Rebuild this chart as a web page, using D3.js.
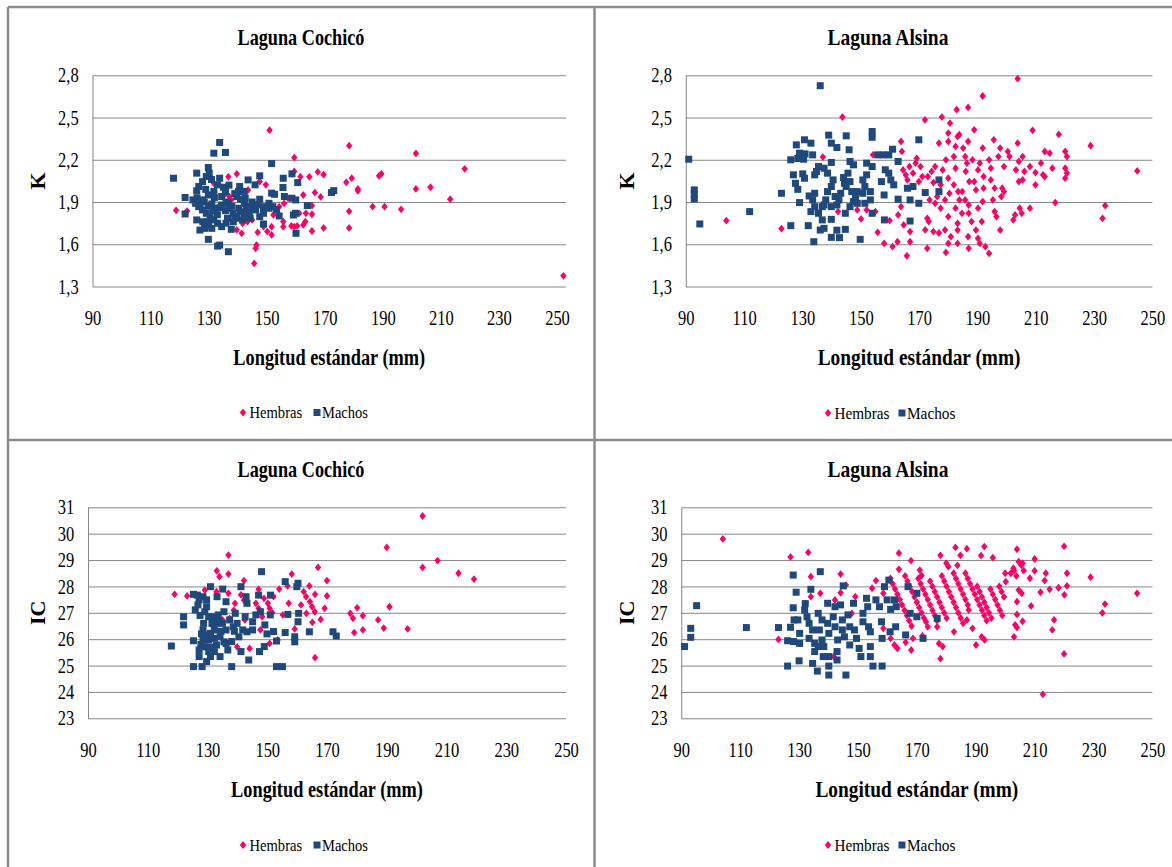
<!DOCTYPE html>
<html><head><meta charset="utf-8">
<script src="https://cdn.jsdelivr.net/npm/d3@7/dist/d3.min.js"></script>
<style>html,body{margin:0;padding:0;background:#fff}svg{display:block}text{font-family:'Liberation Serif','Times New Roman',Times,serif}</style>
</head><body>
<script>
// ---------- DATA ----------
const panelTitles = ["Laguna Cochicó", "Laguna Alsina", "Laguna Cochicó", "Laguna Alsina"];
const yAxisTitles = ["K", "K", "IC", "IC"];
const xAxisTitle = "Longitud estándar (mm)";
const seriesNames = ["Hembras", "Machos"];
const xTicks = [90, 110, 130, 150, 170, 190, 210, 230, 250];
const kTicks = [1.3, 1.6, 1.9, 2.2, 2.5, 2.8];
const icTicks = [23, 24, 25, 26, 27, 28, 29, 30, 31];

const cochicoK_H = [[151,2.41],[178.4,2.30],[201.4,2.245],[218.2,2.136],[159.5,2.216],[167.6,2.114],[169.6,2.095],[179.3,2.069],[177.4,2.04],[188.7,2.086],[189.5,2.10],[201.4,1.993],[206.4,2.005],[181.4,1.993],[181.4,1.98],[213.2,1.92],[186.5,1.867],[190.6,1.867],[196.3,1.848],[178.4,1.834],[178.4,1.716],[169.6,1.716],[252.2,1.376],[118.8,1.841],[122.6,1.836],[136.8,2.079],[139.7,2.10],[161.6,2.08],[164.7,2.079],[166.6,1.967],[168.6,1.936],[162.6,1.95],[165.6,1.875],[165.6,1.813],[163.5,1.82],[163.3,1.761],[162.6,1.737],[159.5,1.725],[159.5,2.117],[165.6,1.694],[155.7,1.761],[155.7,1.725],[151.7,1.666],[150.2,1.69],[148.9,1.725],[146.9,1.685],[146.2,1.571],[146.5,1.594],[145.7,1.464],[141.4,1.678],[139.7,1.702],[141.7,1.749],[143.4,1.761],[149.7,2.022],[147.6,2.045],[143.6,1.986],[137.1,1.939],[137.8,1.915],[135.8,1.96],[131.8,2.033],[154.3,1.867],[152.3,1.808],[157.3,1.927],[156,1.89],[147.6,1.903],[145,1.773],[151.7,1.725],[161.2,1.82],[142.3,1.82],[137.1,1.879],[158.5,1.73],[160.5,1.73]];
const cochicoK_M = [[133.8,2.323],[131.8,2.247],[135.8,2.252],[151.7,2.173],[117.9,2.069],[125.9,2.105],[129.9,2.145],[130.2,2.105],[129.2,2.081],[127.9,2.045],[126.6,2.01],[125.9,1.98],[133.8,2.069],[133.1,2.022],[135.1,2.005],[135.8,1.975],[134.5,1.939],[140.7,2.01],[143.6,2.057],[147.6,2.086],[146,2.022],[155.7,2.069],[158.7,2.10],[160.7,2.038],[151.7,1.963],[152.7,1.955],[156.1,1.939],[158.7,1.927],[160,1.915],[147.6,1.92],[142.6,1.927],[139.7,1.939],[121.9,1.932],[121.9,1.815],[124.6,1.915],[125.5,1.891],[126.6,1.867],[127.9,1.844],[129.2,1.82],[130.5,1.796],[131.8,1.773],[129.9,1.761],[127,1.701],[128.6,1.713],[129.9,1.635],[133.1,1.587],[133.8,1.594],[136.8,1.547],[137.8,1.706],[125.9,1.773],[131.1,1.886],[132.4,1.856],[134.5,1.879],[135.8,1.839],[137.1,1.856],[138.4,1.82],[136.5,1.785],[139.7,1.785],[133.1,1.749],[134.5,1.725],[131.1,1.713],[140.4,1.856],[142.3,1.891],[144.3,1.867],[146.2,1.844],[148.9,1.867],[150.8,1.891],[150.8,1.856],[152.1,1.867],[153.4,1.844],[148.9,1.82],[142.3,1.796],[141.7,1.773],[144.3,1.785],[147.6,1.796],[148.9,1.744],[154.3,1.801],[159.9,1.82],[159.2,1.808],[160.1,1.678],[164,1.875],[172.3,1.967],[173.1,1.981],[155.6,2.003],[127.9,1.915],[136.8,1.891],[129.9,1.95],[131.8,1.975],[140.3,1.975],[142.3,1.975],[127,1.88],[128.5,1.9],[130,1.87],[131.5,1.84],[133,1.81],[134,1.86],[136,1.9],[138,1.87],[139,1.8],[141,1.83],[143,1.85],[145,1.9],[146.5,1.88],[144,1.82],[132,1.93],[130,1.73],[136,1.75],[138.5,1.76],[126,1.93],[128,1.76],[129,1.99],[131,2.06],[137,2.02],[139,1.96],[141,1.92]];

const alsinaK_H = [[103.9,1.768],[122.8,1.711],[137,2.219],[143.7,2.503],[142.2,1.832],[148.8,1.844],[150.1,1.78],[152,1.844],[155,1.832],[154.2,2.235],[155.8,1.685],[158,1.606],[159.9,1.768],[160.9,1.583],[162.6,1.618],[165.8,1.518],[166.9,1.618],[166.9,1.69],[163.8,2.33],[164.1,2.259],[163.8,1.867],[162.8,1.808],[164.7,1.737],[164.5,2.128],[165.4,2.093],[166,2.057],[166.7,2.152],[167.9,2.105],[169.2,2.209],[168.8,2.176],[169.9,2.045],[171.1,2.081],[170.5,2.152],[172,2.484],[172.8,1.571],[172.8,1.784],[173.3,1.761],[173.6,1.915],[173,2.081],[174.3,2.117],[175.5,2.152],[174.9,2.038],[174.9,1.69],[175.5,1.891],[176.2,1.939],[176.8,2.318],[177.8,2.503],[177.4,2.022],[177.4,1.856],[176.8,1.68],[179.2,2.2],[178.1,2.128],[179.2,1.542],[178.9,1.702],[180,2.39],[180,2.33],[180.6,2.46],[180,2.069],[180.4,1.962],[180,1.796],[180,1.606],[180.9,1.654],[182.9,2.556],[181.9,2.223],[182.5,2.295],[183.2,2.366],[183.8,2.378],[182.5,2.14],[181.9,2.022],[183.4,1.974],[183.8,1.915],[182.5,1.856],[183.2,1.749],[183.2,1.701],[183.2,1.606],[184.7,1.82],[185.1,2.283],[185.8,2.223],[186.4,2.176],[186,2.117],[185.8,1.915],[186.8,2.572],[186.8,2.33],[187,1.879],[187,1.82],[186.8,1.654],[187,1.571],[188.9,2.413],[188.3,2.2],[188.9,2.045],[189.5,1.986],[190.2,2.128],[190.8,2.176],[190.2,1.856],[189.5,1.701],[190.2,1.642],[190.8,1.606],[191.8,2.653],[191.8,2.283],[192.1,2.081],[192.1,1.998],[191.8,1.903],[191.5,1.761],[192.7,1.583],[194,1.535],[194,2.2],[194.6,2.14],[195.6,2.342],[194.6,2.057],[195.3,1.915],[195.9,1.832],[195.9,1.998],[196.5,1.796],[197.2,2.223],[197.8,2.283],[198.2,1.939],[198.5,1.998],[197.8,1.701],[199.1,2.152],[200.4,2.259],[201,2.223],[202.3,1.773],[202.9,1.808],[203.2,2.128],[203.8,2.776],[203.8,2.318],[204.2,2.188],[204.2,2.045],[204.5,1.856],[205.2,1.82],[205.5,2.223],[205.5,2.057],[206.1,2.117],[208,2.152],[208,1.856],[208.9,2.409],[209.9,2.109],[209.9,2.022],[211.8,2.176],[212.5,2.093],[213.1,2.259],[214.8,2.247],[215.7,2.14],[213.1,2.081],[216.7,1.896],[217.9,2.38],[220.1,2.259],[220.7,2.223],[220.1,2.14],[220.7,2.105],[220.1,2.069],[228.8,2.3],[232.9,1.784],[233.8,1.875],[244.8,2.121],[187.2,2.045],[184.8,1.974],[199.1,1.974],[178.9,1.915],[172.1,1.702],[188,1.761]];
const alsinaK_M = [[91,2.204],[92.9,1.986],[92.9,1.955],[92.9,1.922],[94.8,1.744],[111.9,1.832],[122.8,1.962],[126,1.732],[132,1.732],[133.9,1.618],[136.1,2.726],[126,2.2],[127.9,2.306],[126.9,2.093],[130.7,2.342],[132.9,2.318],[129,2.247],[130.9,2.242],[133.5,2.235],[128.4,2.209],[130.4,2.204],[127.6,2.033],[128.4,1.99],[130.7,2.069],[130.1,2.1],[129,1.896],[132.3,1.943],[133.5,1.915],[132.9,1.832],[134.2,1.867],[135.5,1.82],[136.8,1.773],[136.1,1.701],[137.4,1.713],[134.2,2.093],[135.5,2.152],[137.4,2.14],[134.8,2.117],[139,2.375],[139.9,2.318],[141.8,2.287],[139.9,2.181],[138.6,2.105],[140.5,2.057],[139.9,2.01],[138.6,1.974],[138,1.915],[137.4,1.879],[139.9,1.867],[141.2,1.939],[143.1,1.962],[142.5,1.915],[141.8,1.879],[139.9,1.777],[139.9,1.649],[142.7,1.647],[141.8,1.7],[144.7,1.706],[144.7,1.82],[145,2.37],[146,2.271],[146.3,2.188],[147.5,2.164],[145.6,2.105],[144.1,2.074],[146.3,2.045],[145,2.01],[146.9,1.974],[148.2,1.939],[147.5,1.903],[148.8,1.891],[146.3,1.867],[149.8,1.635],[151.4,1.891],[150.7,1.962],[151.4,2.01],[150.7,2.057],[152,2.093],[152,2.176],[153.9,2.401],[153.9,2.36],[153.9,2.152],[153.3,1.974],[153.3,1.915],[153.9,1.82],[155.8,2.235],[157.7,2.235],[159.6,2.235],[160.9,2.275],[157.1,2.045],[158,1.95],[158.4,2.129],[159.6,2.105],[160.3,2.057],[161.3,2.022],[162.8,2.188],[162.8,1.92],[158.1,1.773],[166.9,1.915],[166.9,1.765],[166,1.998],[167.9,2.01],[169.9,2.342],[169.9,1.891],[172.1,1.967],[176.8,2.057],[176.8,1.974],[148.8,1.974],[144.4,2.033],[136.8,1.867],[134.2,1.962]];

const cochicoIC_H = [[202,30.67],[190,29.48],[202,28.72],[207,28.98],[214,28.5],[219.2,28.28],[137,29.19],[133.1,28.59],[134,28.37],[137,28.47],[142.2,28.22],[119,27.7],[123.2,27.64],[129.1,27.86],[137,27.74],[141.2,27.68],[139.2,27.36],[133,27.8],[158.2,28.47],[167,28.72],[170,28.22],[170,27.64],[169.2,27.17],[167.9,26.75],[164.1,28.02],[166,27.7],[162.2,27.8],[163,27.61],[164.3,27.42],[165,27.23],[165.9,27.04],[161.3,27.3],[163.1,26.98],[165.1,26.64],[166,25.3],[159.2,26.39],[156.8,28.02],[154,27.9],[152.1,27.61],[148.9,27.55],[150.2,27.36],[150.8,27.17],[151.7,27],[147.1,27.89],[146.2,27.36],[147.1,27.17],[148.3,26.85],[147.7,26.35],[150.8,25.84],[144.1,25.65],[139.9,25.71],[137.4,26.79],[131.7,26.51],[142.5,26.73],[142.2,27.48],[153.5,25.97],[155.2,26.92],[177.8,26.98],[178.7,26.79],[180.1,27.19],[182,26.89],[179.1,26.25],[182,26.35],[187.1,26.73],[189,26.42],[190.9,27.23],[197,26.39],[138.8,27.1],[135,26.73],[157.2,27.36]];
const cochicoIC_M = [[117.9,25.74],[122,26.85],[122,26.54],[125.3,27.7],[126.6,27.67],[125.9,27.11],[127.2,27.49],[125.3,25.94],[125.3,24.96],[127.2,25.59],[127.2,25.34],[128.2,24.96],[128.5,27.61],[129.7,27.49],[129.7,27.23],[129.1,27.04],[130.4,26.85],[128.7,26.6],[128.5,26.35],[129.7,26.16],[130.4,25.97],[129.1,25.71],[130.4,25.53],[131,25.34],[129.7,25.15],[131,27.99],[133.2,27.61],[133.6,26.92],[133,26.6],[132.3,26.35],[132.3,26.03],[133,25.78],[134.2,25.34],[135.1,27.9],[136.2,27.42],[135.5,27.04],[135,26.6],[136.2,26.35],[136.2,25.84],[136.8,25.59],[138.1,24.96],[138.1,25.91],[139.3,26.98],[139.9,26.6],[141.2,27.99],[141.2,25.53],[141.8,26.35],[142.9,27.61],[143.2,27.36],[142.6,26.85],[143.2,26.28],[143.8,25.21],[145.1,26.66],[145.1,26.35],[146.2,26.92],[148.1,28.56],[147.1,27.67],[147.7,27.04],[147.4,25.53],[149,25.72],[149.2,26.54],[149.9,26.2],[151.1,27.67],[151,26.92],[152.1,26.29],[153.1,25.93],[153.1,24.96],[155.1,24.96],[156,28.18],[156,26.25],[156.9,26.94],[159.2,26.09],[159.2,25.9],[159.9,27.99],[160.3,28.12],[160.5,26.98],[160.3,26.66],[164.1,26.28],[172,26.28],[173.1,26.12],[131.7,26.85],[137.4,26.73],[138.6,26.47],[140.5,26.09],[131,26.22],[134.2,26.09],[128.5,25.97],[132.3,25.53],[127.5,26.9],[131.5,26.6],[134.5,26.3],[127.8,25.8],[130.8,25.7],[133.8,26.7],[128,26.2],[126.8,27.3],[135.5,25.9],[139,26.3]];

const alsinaIC_H = [[104.1,29.8],[127.1,29.12],[133.1,29.29],[134,28.37],[134,27.61],[137.2,27.74],[123,25.99],[144.1,28.47],[144.1,27.76],[142.2,27.49],[141.8,25.34],[145.9,28.05],[149.1,27.61],[147.9,26.98],[154.8,27.93],[156.1,28.22],[158.6,27.74],[163.9,29.26],[163.9,28.65],[168,28.98],[171,28.62],[171.6,28.41],[178,29.18],[180,28.88],[180.7,28.75],[183.1,29.48],[183.8,28.8],[184.8,29.18],[187,29.43],[191.8,29.17],[192.9,29.51],[195.8,29.09],[204,29.41],[210,29.04],[220,29.52],[221,28.5],[213.8,28.5],[213.4,28.22],[221,28.02],[218.1,27.95],[220.1,27.68],[215.1,27.89],[212,27.78],[208.8,27.26],[210,28.59],[208.4,28.31],[229,28.35],[233.9,27.33],[233,27],[244.8,27.74],[216.6,26.73],[216,26.35],[220,25.44],[212.8,23.91],[205.9,26.68],[204,26.94],[203.4,26.54],[204,26.44],[203,26.09],[204,27.42],[204.6,27.86],[205.6,27.74],[205.9,28.88],[204.6,28.94],[201.9,28.5],[202.8,28.69],[200.2,28.18],[200,28.5],[193,25.97],[190.1,25.78],[192,26.09],[188.9,26.41],[187,26.73],[187.6,27.11],[178,25.26],[178.8,25.72],[177.5,25.84],[182.6,26.28],[176.9,26.47],[173.7,26.47],[173.1,26.66],[168.1,25.59],[166.2,25.88],[163.4,25.65],[162.4,25.78],[161.1,26.03],[158.6,26.41],[168.7,26.03],[171.9,26.12],
[161,28.3],[161.8,28.1],[162.6,27.9],[163.4,27.7],[164.2,27.5],[165,27.3],[165.8,27.1],[166.6,26.9],[167.4,26.7],[168.2,26.5],
[166,28.4],[166.8,28.2],[167.6,28.0],[168.4,27.8],[169.2,27.6],[170,27.4],[170.8,27.2],[171.6,27.0],[172.4,26.8],
[170.5,28.3],[171.3,28.1],[172.1,27.9],[172.9,27.7],[173.7,27.5],[174.5,27.3],[175.3,27.1],[176.1,26.9],[176.9,26.7],
[174.5,28.2],[175.3,28.0],[176.1,27.8],[176.9,27.6],[177.7,27.4],[178.5,27.2],[179.3,27.0],[180.1,26.8],
[178.5,28.4],[179.3,28.2],[180.1,28.0],[180.9,27.8],[181.7,27.6],[182.5,27.4],[183.3,27.2],[184.1,27.0],[184.9,26.8],[185.7,26.6],
[182.5,28.5],[183.3,28.3],[184.1,28.1],[184.9,27.9],[185.7,27.7],[186.5,27.5],[187.3,27.3],
[186.5,28.5],[187.3,28.3],[188.1,28.1],[188.9,27.9],[189.7,27.7],[190.5,27.5],[191.3,27.3],[192.1,27.1],[192.9,26.9],[193.7,26.7],
[190.5,28.0],[191.3,27.8],[192.1,27.6],[192.9,27.4],[193.7,27.2],[194.5,27.0],[195.3,26.8],
[195,27.9],[195.8,27.7],[196.6,27.5],[197.4,27.3],[198.2,27.1],[199,26.9],
[198,28.0],[198.8,27.8],[199.6,27.6],
[203,28.6],[203.8,28.4],[205.5,28.8],[206.3,28.6]];
const alsinaIC_M = [[91.1,25.72],[93.2,26.41],[93.2,26.07],[95.2,27.27],[112.1,26.44],[123,26.44],[126.1,24.98],[127.1,26.45],[128,28.43],[129,27.78],[128,27.19],[128.3,26.73],[126.1,25.94],[128.1,25.91],[130.2,25.84],[130.2,26.22],[130,25.18],[132.1,27.35],[131.9,27.1],[132.7,26.85],[134,27.89],[133.4,26.6],[134.6,26.35],[135.3,25.84],[135.3,25.53],[136.2,24.79],[137.2,28.56],[136.5,26.98],[137.8,26.73],[136.9,26.35],[137.8,25.97],[138.4,25.72],[138.2,25.34],[139.7,27.36],[139.7,26.6],[140.1,26.22],[140.1,25.34],[140.1,24.98],[140.1,24.64],[141.6,26.85],[142.2,26.47],[142.9,25.53],[142.9,25.21],[142.2,27.23],[144.1,27.3],[145,28.02],[144.7,26.73],[144.7,26.35],[145.4,26.09],[145.9,24.64],[146.6,26.92],[147.2,25.78],[148.5,27.36],[148.8,26.35],[149.5,26.03],[150.4,25.65],[151,25.34],[151.7,26.66],[151.7,26.98],[152.9,27.55],[153.3,27.23],[153.6,26.47],[154.2,26.28],[154.2,25.72],[154.2,25.34],[155.1,24.98],[156.1,27.49],[157.3,27.23],[158,26.66],[158.2,26.03],[158.2,24.98],[159,27.99],[159.9,27.49],[160.5,28.24],[161.1,27.13],[160.9,26.28],[162.4,27.49],[162.8,26.47],[163,27.23],[166.2,26.16],[167,27.99],[167.7,26.98],[170,27.74],[170,26.85],[172.1,26.03],[176.9,26.79],[129.6,26.73],[133.4,26.03],[136.5,25.72],[143.1,25.97],[147.2,26.47],[134.6,25.08]];

const panelData = [
  [cochicoK_H, cochicoK_M],
  [alsinaK_H, alsinaK_M],
  [cochicoIC_H, cochicoIC_M],
  [alsinaIC_H, alsinaIC_M]
];

// ---------- LAYOUT ----------
const W = 1172, H = 867;
const FONT = "'Liberation Serif','Times New Roman',Times,serif";
const colH = "#FF0066", colM = "#1F497D", gridCol = "#888888";
const SX = 0.75; // horizontal squash of the reference text
const TICK_FS = 22;

const panels = [
  {x0:92.5, x1:557, right:566, top:75.3, bottom:286.5, yTicks:kTicks, titleX:301, titleY:45, titleW:127, xtY:365, xtW:192, ytX:45, legX:243, legY:412.5},
  {x0:685.8, x1:1152.4, right:1152.4, top:75.3, bottom:286.5, yTicks:kTicks, titleX:888, titleY:45, titleW:121, xtY:365, xtW:203, ytX:634, legX:828, legY:413},
  {x0:88, x1:566, right:566, top:507.3, bottom:718.3, yTicks:icTicks, titleX:301, titleY:477, titleW:127, xtY:797, xtW:192, ytX:45, legX:243, legY:845},
  {x0:681.3, x1:1152.4, right:1152.4, top:507.3, bottom:718.3, yTicks:icTicks, titleX:888, titleY:477, titleW:121, xtY:797, xtW:203, ytX:634, legX:828, legY:845}
];

const svg = d3.select("body").append("svg").attr("width", W).attr("height", H)
  .style("font-family", FONT);
svg.append("rect").attr("width", W).attr("height", H).attr("fill", "#fff");

function squashText(g, x, y, str, size, weight, targetW, anchor) {
  const t = g.append("text").attr("font-size", size).attr("font-weight", weight)
    .style("font-family", FONT)
    .attr("text-anchor", anchor || "middle").attr("fill", "#000").text(str);
  let s = SX;
  if (targetW) { const w = t.node().getComputedTextLength(); s = targetW / w; }
  t.attr("transform", `translate(${x},${y}) scale(${s},1)`);
  return t;
}

const diamond = (w, h) => `M0,${-h}L${w},0L0,${h}L${-w},0Z`;
const fmt = d => (Number.isInteger(d) ? String(d) : d3.format(".1f")(d).replace(".", ","));

panels.forEach((p, i) => {
  const g = svg.append("g");
  const yDom = d3.extent(p.yTicks);
  const x = d3.scaleLinear().domain([90, 250]).range([p.x0, p.x1]);
  const y = d3.scaleLinear().domain(yDom).range([p.bottom, p.top]);

  // y axis with gridlines
  const ya = g.append("g").attr("transform", `translate(${p.x0},0)`)
    .call(d3.axisLeft(y).tickValues(p.yTicks).tickFormat(fmt)
      .tickSizeInner(-(p.right - p.x0)).tickSizeOuter(0).tickPadding(18.5));
  ya.attr("font-family", null);
  ya.selectAll(".tick line").attr("stroke", gridCol).attr("stroke-width", 1);
  ya.select(".domain").attr("stroke", gridCol).attr("stroke-width", 1);
  ya.selectAll(".tick text").attr("font-size", TICK_FS).style("font-family", FONT).attr("fill", "#000")
    .attr("dy", "0.3em").attr("transform", `scale(${SX},1)`);

  // x axis labels
  const xa = g.append("g").attr("transform", `translate(0,${p.bottom})`)
    .call(d3.axisBottom(x).tickValues(xTicks).tickFormat(d3.format("d")).tickSize(0).tickPadding(23));
  xa.attr("font-family", null);
  xa.select(".domain").remove();
  xa.selectAll(".tick text").attr("font-size", TICK_FS).style("font-family", FONT).attr("fill", "#000")
    .attr("transform", `scale(${SX},1)`);

  // points
  const [hem, mac] = panelData[i];
  g.append("g").selectAll("path").data(hem).join("path")
    .attr("d", diamond(3.2, 3.9)).attr("fill", colH)
    .attr("transform", d => `translate(${x(d[0])},${y(d[1])})`);
  g.append("g").selectAll("rect").data(mac).join("rect")
    .attr("width", 7).attr("height", 7).attr("fill", colM)
    .attr("x", d => x(d[0]) - 3.5).attr("y", d => y(d[1]) - 3.5);

  // titles
  squashText(g, p.titleX, p.titleY, panelTitles[i], 23, "bold", p.titleW);
  squashText(g, (p.x0 + p.right) / 2, p.xtY, xAxisTitle, 24, "bold", p.xtW);
  g.append("text").attr("font-size", 22).attr("font-weight", "bold").attr("text-anchor", "middle")
    .style("font-family", FONT)
    .attr("transform", `translate(${p.ytX},${(p.top + p.bottom) / 2}) rotate(-90)`).text(yAxisTitles[i]);

  // legend
  const lg = g.append("g").attr("transform", `translate(${p.legX},${p.legY})`);
  lg.append("path").attr("d", diamond(3.2, 3.9)).attr("fill", colH);
  squashText(lg, 6.5, 5.5, seriesNames[0], 17, "normal", i % 2 ? 55 : 52.7, "start");
  lg.append("rect").attr("x", 70.5).attr("y", -3.5).attr("width", 7).attr("height", 7).attr("fill", colM);
  squashText(lg, 79, 5.5, seriesNames[1], 17, "normal", i % 2 ? 48.5 : 46, "start");
});

// panel frame lines
const frame = [[8, 7, 1172, 7], [8, 7, 8, 867], [594.5, 7, 594.5, 867], [8, 440, 1172, 440]];
svg.append("g").selectAll("line").data(frame).join("line")
  .attr("x1", d => d[0]).attr("y1", d => d[1]).attr("x2", d => d[2]).attr("y2", d => d[3])
  .attr("stroke", "#8c8c8c").attr("stroke-width", 2.5);
</script>
</body></html>
